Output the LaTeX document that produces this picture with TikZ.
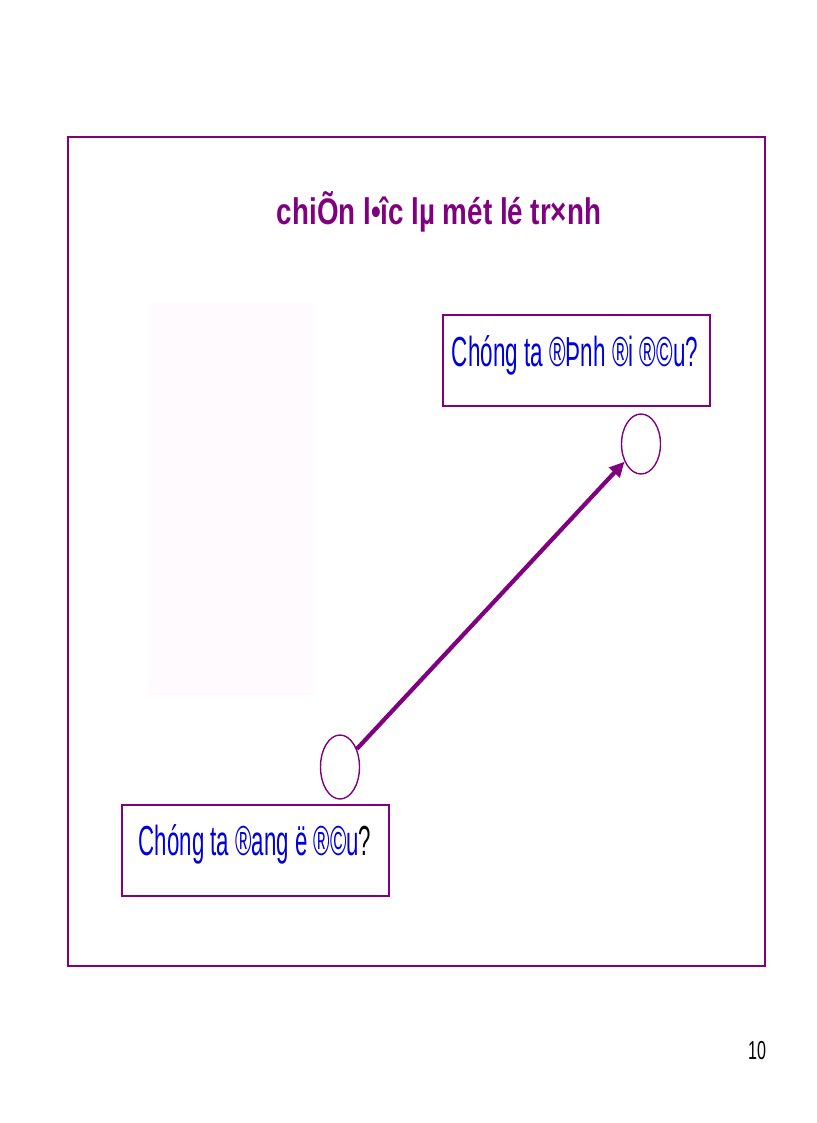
\documentclass[tikz,border=0pt]{standalone}
\usepackage{fontspec}
\setmainfont{Liberation Sans}
\usetikzlibrary{arrows.meta,shapes.geometric}
\definecolor{vpurple}{RGB}{128,0,128}
\definecolor{vblue}{RGB}{0,0,220}
\tikzset{
  frame/.style={draw=vpurple,line width=1.6pt},
  qbox/.style={draw=vpurple,line width=1.6pt,fill=white},
  ring/.style={draw=vpurple,line width=1.4pt,ellipse,inner sep=0pt},
  conn/.style={draw=vpurple,line width=4.2pt,-{Triangle[length=15pt,width=14pt]}},
  qtext/.style={text=vblue,font=\fontsize{42}{46}\selectfont,inner sep=0pt,anchor=base},
}
\begin{document}
\begin{tikzpicture}[x=1pt,y=-1pt]
\useasboundingbox (0,0) rectangle (816,1123);
\fill[white] (0,0) rectangle (816,1123);
% outer frame
\draw[frame] (68,137) rectangle (765,966);
% faint picture
\fill[magenta!2] (148,303) rectangle (313,695);
% title
\node[text=vpurple,font=\bfseries\fontsize{37}{40}\selectfont,inner sep=0pt,anchor=base] (title) at (439,225) {\scalebox{0.75}[1]{chiÕn l•îc lµ mét lé tr×nh}};
% boxes
\draw[qbox] (443,315) rectangle (710,406);
\node[qtext] (qtop) at (575,366) {\scalebox{0.535}[1]{Chóng ta ®Þnh ®i ®©u?}};
\draw[qbox] (122,805) rectangle (389,896);
\node[qtext] (qbot) at (255,855) {\scalebox{0.53}[1]{Chóng ta ®ang ë ®©u\textcolor{black}{?}}};
% circles
\node[ring,minimum width=39pt,minimum height=60pt] (ctop) at (641,444) {};
\node[ring,minimum width=39pt,minimum height=64pt] (cbot) at (340,767) {};
\draw[conn] (cbot) -- (ctop);
% page number
\node[inner sep=0pt,anchor=base,font=\fontsize{26}{30}\selectfont] (pnum) at (757,1059) {\scalebox{0.62}[1]{10}};
\end{tikzpicture}
\end{document}
